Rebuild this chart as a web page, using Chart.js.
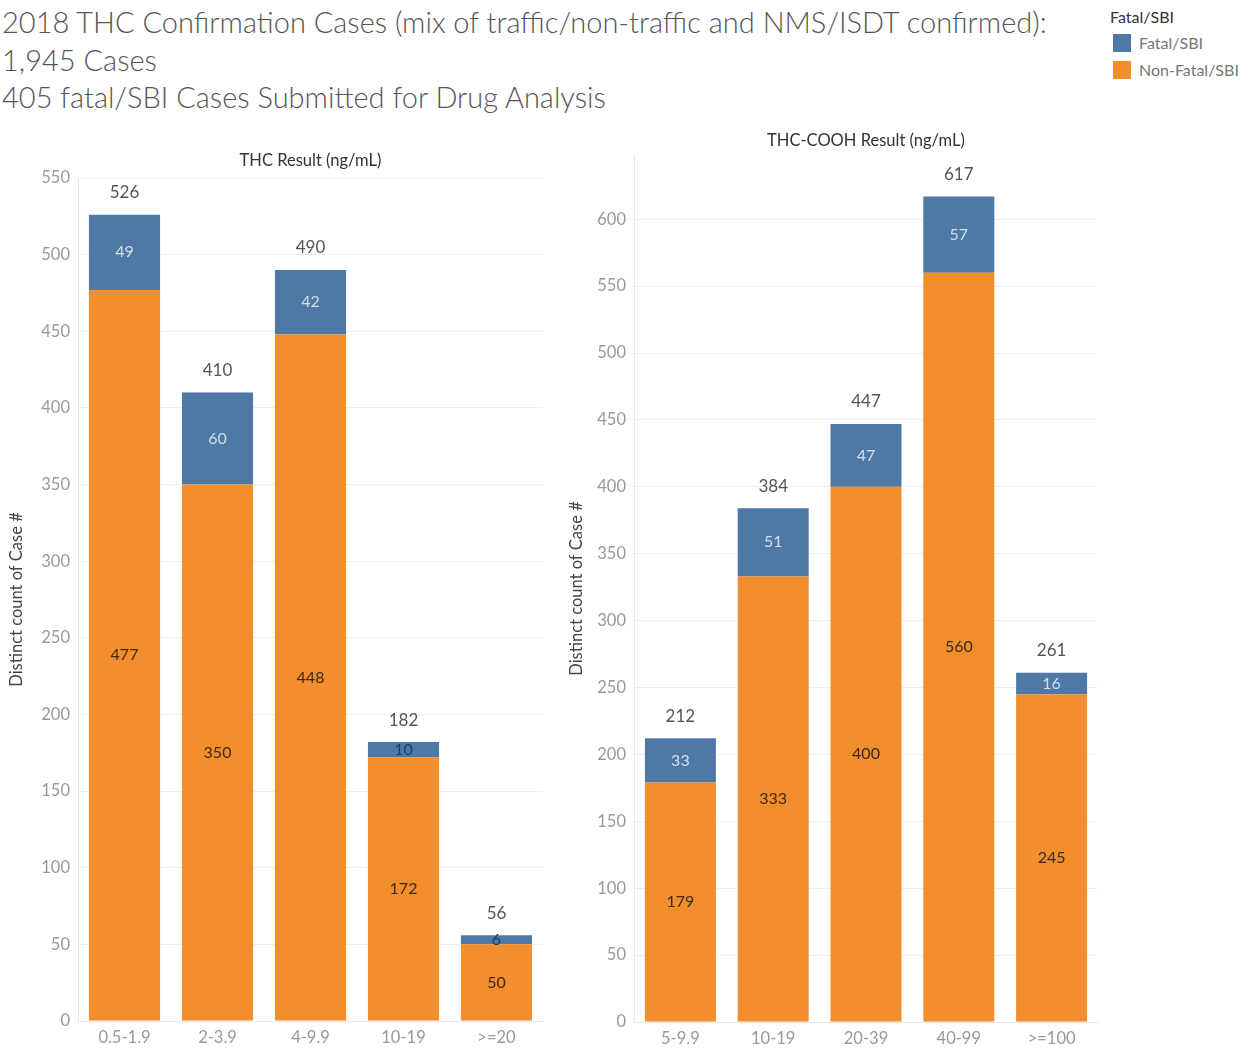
<!DOCTYPE html>
<html>
<head>
<meta charset="utf-8">
<script src="https://cdn.jsdelivr.net/npm/chart.js@4.4.1/dist/chart.umd.min.js"></script>
<style>
  body { margin: 0; background: #fff; font-family: Lato, "Open Sans", sans-serif; }
  #page { position: relative; width: 1253px; height: 1049px; overflow: hidden; }
  .title { position: absolute; left: 2px; top: 3px; color: #555; font-size: 29px; line-height: 37.5px; font-weight: 300; white-space: nowrap; }
  .legend { position: absolute; left: 1110px; top: 7px; font-size: 16px; color: #777; }
  .legend .head { color: #333; margin-bottom: 3px; }
  .legend .row { display: flex; align-items: center; height: 27px; }
  .legend .sw { width: 18px; height: 18px; margin: 0 8px 0 3px; }
  .box { position: absolute; top: 120px; }
</style>
</head>
<body>
<div id="page">
  <div class="title">2018 THC Confirmation Cases (mix of traffic/non-traffic and NMS/ISDT confirmed):<br>1,945 Cases<br>405 fatal/SBI Cases Submitted for Drug Analysis</div>
  <div class="legend">
    <div class="head">Fatal/SBI</div>
    <div class="row"><div class="sw" style="background:#4e79a7"></div>Fatal/SBI</div>
    <div class="row"><div class="sw" style="background:#f28e2b"></div>Non-Fatal/SBI</div>
  </div>
  <div class="box" style="left:0"><canvas id="thcChart" width="560" height="929"></canvas></div>
  <div class="box" style="left:560px"><canvas id="coohChart" width="560" height="929"></canvas></div>
</div>
<script>
// THC result bins
const thcLabels = ['0.5-1.9', '2-3.9', '4-9.9', '10-19', '>=20'];
const thcFatal = [49, 60, 42, 10, 6];
const thcNonFatal = [477, 350, 448, 172, 50];
const thcTicks = [0, 50, 100, 150, 200, 250, 300, 350, 400, 450, 500, 550];

// THC-COOH result bins
const coohLabels = ['5-9.9', '10-19', '20-39', '40-99', '>=100'];
const coohFatal = [33, 51, 47, 57, 16];
const coohNonFatal = [179, 333, 400, 560, 245];
const coohTicks = [0, 50, 100, 150, 200, 250, 300, 350, 400, 450, 500, 550, 600];

const BLUE = '#4e79a7';
const ORANGE = '#f28e2b';
const FONT = 'Lato, "Open Sans", sans-serif';

// draws segment values, totals and the header above each pane
const barLabels = {
    id: 'barLabels',
    afterDatasetsDraw(chart, args, opts) {
        const ctx = chart.ctx;
        const sets = chart.data.datasets;
        ctx.save();
        ctx.textAlign = 'center';
        ctx.textBaseline = 'middle';
        ctx.font = '16px ' + FONT;
        sets.forEach((ds, di) => {
            chart.getDatasetMeta(di).data.forEach((bar, i) => {
                const h = bar.base - bar.y;
                if (di === 0) ctx.fillStyle = '#3b2a1c';
                else ctx.fillStyle = h < 18 ? '#1f3f68' : '#d5dfea';
                ctx.fillText(ds.data[i], bar.x, bar.y + h / 2);
            });
        });
        ctx.fillStyle = '#555';
        ctx.font = '17px ' + FONT;
        chart.getDatasetMeta(sets.length - 1).data.forEach((bar, i) => {
            const total = sets.reduce((s, d) => s + d.data[i], 0);
            ctx.fillText(total, bar.x, bar.y - 22);
        });
        const area = chart.chartArea;
        ctx.fillStyle = '#333';
        ctx.font = '16.5px ' + FONT;
        ctx.fillText(opts.header, (area.left + area.right) / 2, opts.headerY);
        ctx.restore();
    }
};

function makeChart(id, labels, fatal, nonFatal, tickValues, cfg) {
    return new Chart(document.getElementById(id).getContext('2d'), {
        type: 'bar',
        data: {
            labels: labels,
            datasets: [{
                label: 'Non-Fatal/SBI',
                data: nonFatal,
                backgroundColor: ORANGE
            }, {
                label: 'Fatal/SBI',
                data: fatal,
                backgroundColor: BLUE
            }]
        },
        options: {
            responsive: false,
            animation: false,
            layout: { padding: { top: cfg.top, right: cfg.right, left: 0, bottom: 0 } },
            datasets: { bar: { categoryPercentage: 1, barPercentage: 0.765 } },
            plugins: {
                legend: { display: false },
                tooltip: { enabled: false },
                barLabels: { header: cfg.header, headerY: cfg.headerY }
            },
            scales: {
                x: {
                    stacked: true,
                    grid: { display: false, drawTicks: false },
                    border: { color: '#e8e8e8' },
                    ticks: { color: '#999', font: { family: FONT, size: 16.5 }, padding: 7 },
                    afterFit: s => { s.height = cfg.xHeight; }
                },
                y: {
                    stacked: true,
                    min: 0,
                    max: cfg.max,
                    grid: { color: '#efefef', drawTicks: false },
                    border: { color: '#e8e8e8' },
                    ticks: { autoSkip: false, color: '#999', font: { family: FONT, size: 16.5 }, padding: 8 },
                    afterBuildTicks: s => { s.ticks = tickValues.map(v => ({ value: v })); },
                    afterFit: s => { s.width = cfg.yWidth; },
                    title: {
                        display: true,
                        text: 'Distinct count of Case #',
                        color: '#444',
                        font: { family: FONT, size: 16.5 },
                        padding: { top: 7 }
                    }
                }
            }
        },
        plugins: [barLabels]
    });
}

makeChart('thcChart', thcLabels, thcFatal, thcNonFatal, thcTicks,
    { top: 58, right: 17, max: 550, xHeight: 28, yWidth: 78, header: 'THC Result (ng/mL)', headerY: 41 });
makeChart('coohChart', coohLabels, coohFatal, coohNonFatal, coohTicks,
    { top: 35, right: 22, max: 648, xHeight: 27, yWidth: 74, header: 'THC-COOH Result (ng/mL)', headerY: 21 });
</script>
</body>
</html>
